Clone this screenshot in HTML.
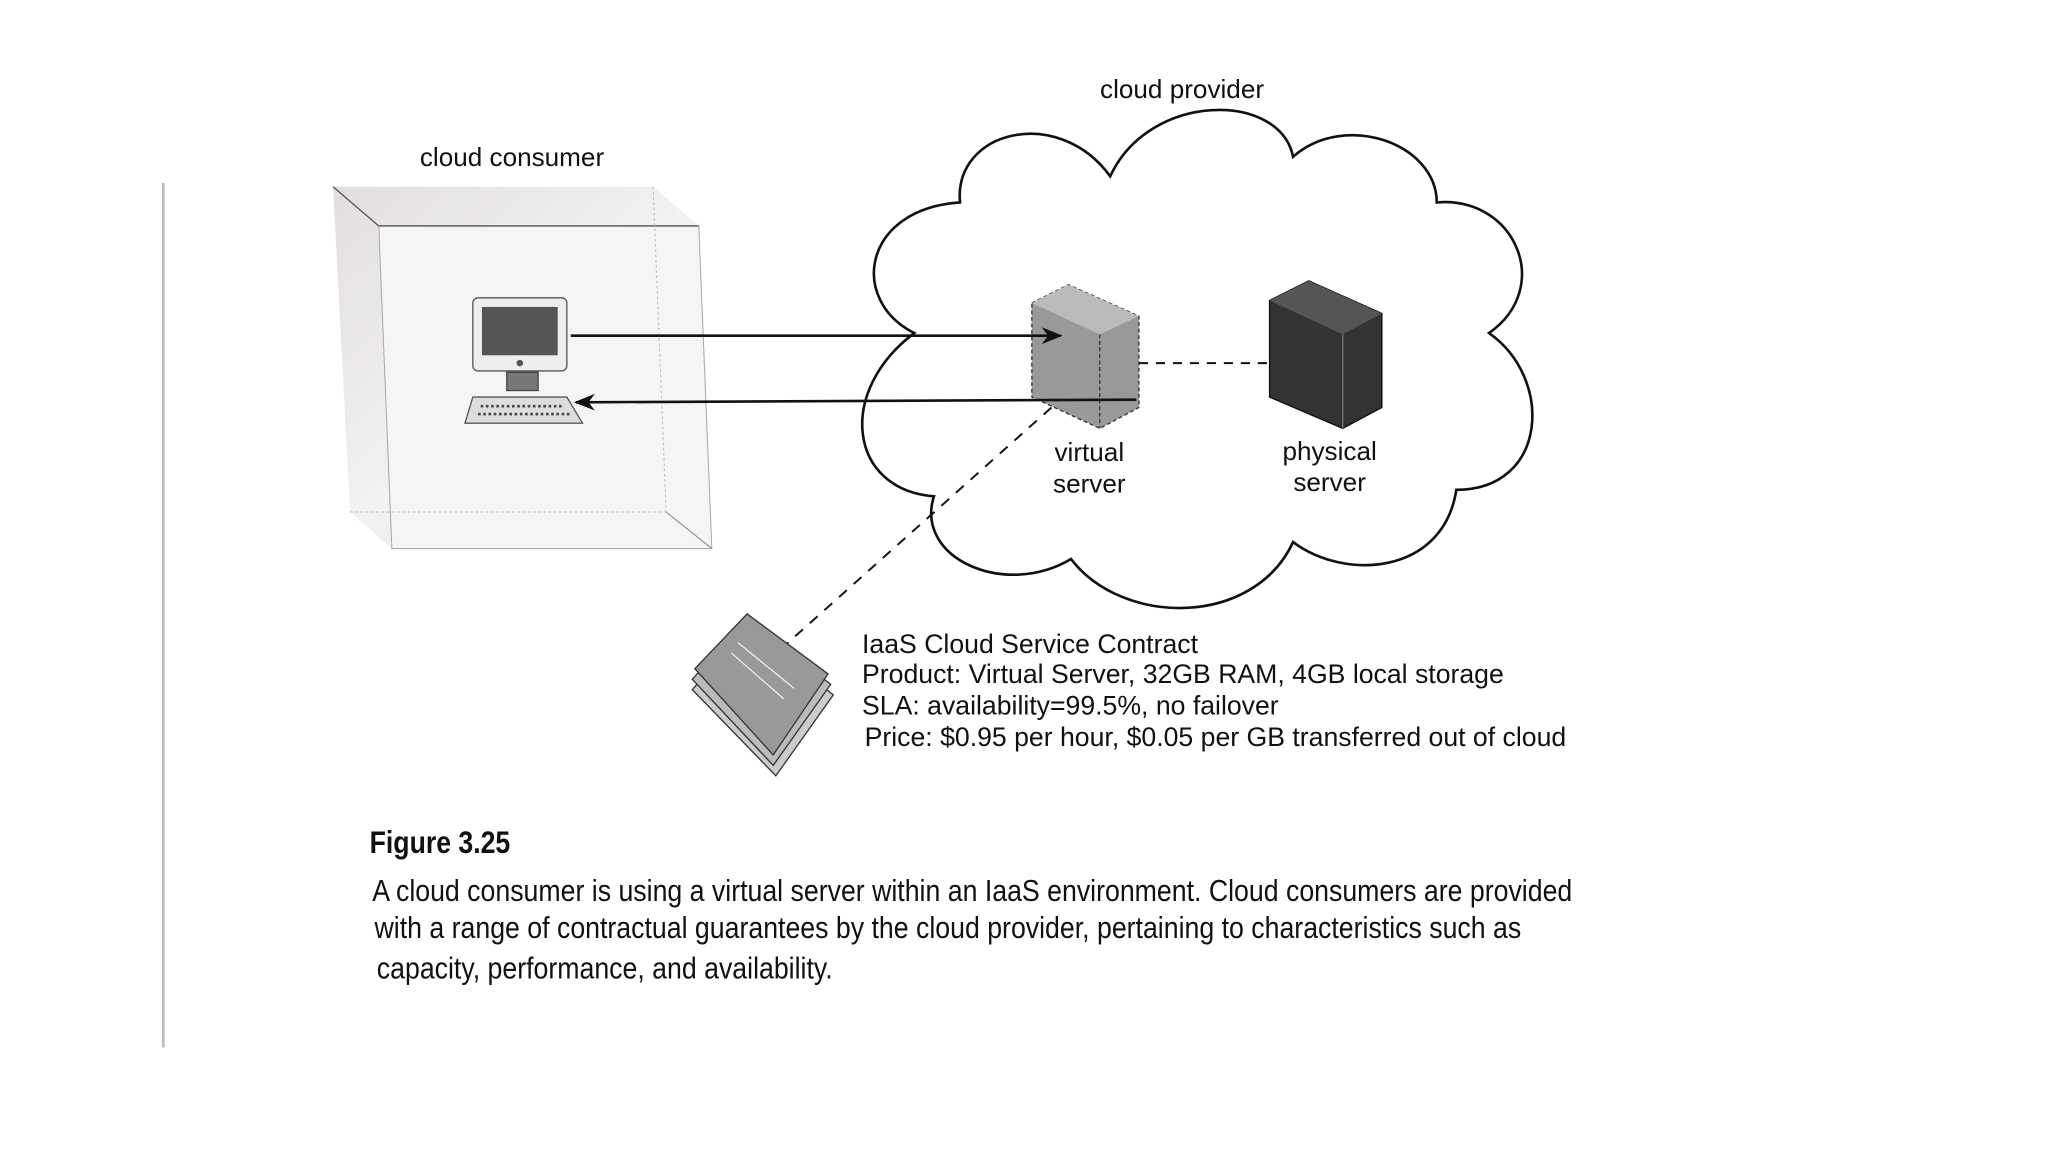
<!DOCTYPE html>
<html><head><meta charset="utf-8"><style>
html,body{margin:0;padding:0;background:#fff;}
svg{display:block}
text{font-family:"Liberation Sans",sans-serif;fill:#111}
</style></head><body>
<svg width="2048" height="1152" viewBox="0 0 1568 882" preserveAspectRatio="none" xmlns="http://www.w3.org/2000/svg">
<defs>
<linearGradient id="bx" x1="0" y1="0" x2="1" y2="1"><stop offset="0" stop-color="#e2dede"/><stop offset="0.5" stop-color="#f3f1f1"/><stop offset="1" stop-color="#e0dcdc"/></linearGradient>
<marker id="ah" viewBox="0 0 10 10" refX="9" refY="5" markerWidth="8" markerHeight="8" orient="auto"><path d="M0,1 L10,5 L0,9 L3,5 Z" fill="#111"/></marker>
</defs>
<rect width="1568" height="882" fill="#fff"/>
<line x1="125" y1="140" x2="125" y2="802" stroke="#bbb" stroke-width="2"/>

<text x="392" y="127" font-size="20" text-anchor="middle">cloud consumer</text>
<polygon points="255,143 500,143 535,173 545,420 300,420 268,392" fill="url(#bx)"/>
<polygon points="290,173 535,173 545,420 300,420" fill="#f6f5f5" stroke="#aaa" stroke-width="0.8"/>
<line x1="255" y1="143" x2="290" y2="173" stroke="#555" stroke-width="1"/>
<line x1="290" y1="173" x2="535" y2="173" stroke="#555" stroke-width="1"/>
<line x1="500" y1="143" x2="510" y2="392" stroke="#bbb" stroke-width="0.8" stroke-dasharray="2,2"/>
<line x1="268" y1="392" x2="510" y2="392" stroke="#bbb" stroke-width="0.8" stroke-dasharray="2,2"/>
<line x1="510" y1="392" x2="545" y2="420" stroke="#888" stroke-width="0.8"/>

<rect x="362" y="228" width="72" height="56" rx="4" fill="#eee" stroke="#555"/>
<rect x="369" y="235" width="58" height="37" fill="#555"/>
<circle cx="398" cy="278" r="2.5" fill="#555"/>
<rect x="388" y="285" width="24" height="14" fill="#777" stroke="#444"/>
<polygon points="362,304 434,304 446,324 356,324" fill="#ddd" stroke="#555"/>
<line x1="368" y1="311" x2="430" y2="311" stroke="#444" stroke-width="2" stroke-dasharray="2,2"/>
<line x1="366" y1="317" x2="436" y2="317" stroke="#444" stroke-width="2" stroke-dasharray="2,2"/>

<path d="M700,255 C650,230 660,160 735,155 C730,100 810,80 850,135 C880,70 980,70 990,120 C1030,85 1100,110 1100,155 C1160,150 1190,220 1140,255 C1190,290 1185,375 1115,375 C1105,440 1030,445 990,415 C960,480 860,480 820,428 C770,458 700,428 715,380 C650,375 640,300 700,255 Z" fill="#fff" stroke="#111" stroke-width="2"/>
<text x="905" y="75" font-size="20" text-anchor="middle">cloud provider</text>

<polygon points="790,232 818,218 872,242 872,312 842,328 790,304" fill="#999" stroke="#333" stroke-width="1" stroke-dasharray="3,2"/>
<polygon points="790,232 818,218 872,242 842,256" fill="#bbb"/>
<line x1="842" y1="256" x2="842" y2="328" stroke="#333" stroke-dasharray="3,2"/>
<line x1="872" y1="278" x2="972" y2="278" stroke="#111" stroke-width="1.5" stroke-dasharray="7,6"/>

<line x1="437" y1="257" x2="812" y2="257" stroke="#111" stroke-width="2" marker-end="url(#ah)"/>
<line x1="870" y1="306" x2="441" y2="308" stroke="#111" stroke-width="2" marker-end="url(#ah)"/>

<polygon points="972,230 1002,215 1058,240 1058,312 1028,328 972,304" fill="#333" stroke="#111"/>
<polygon points="972,230 1002,215 1058,240 1028,256" fill="#555"/>
<line x1="1028" y1="256" x2="1028" y2="328" stroke="#777"/>

<text x="834" y="353" font-size="20" text-anchor="middle">virtual</text>
<text x="834" y="377" font-size="20" text-anchor="middle">server</text>
<text x="1018" y="352" font-size="20" text-anchor="middle">physical</text>
<text x="1018" y="376" font-size="20" text-anchor="middle">server</text>

<line x1="805" y1="312" x2="600" y2="495" stroke="#111" stroke-width="1.5" stroke-dasharray="8,7"/>

<g stroke="#333" stroke-width="1">
<polygon points="530,528 572,480 638,532 594,594" fill="#ccc"/>
<polygon points="530,520 572,474 636,524 592,586" fill="#bbb"/>
<polygon points="532,512 572,470 634,516 592,578" fill="#999"/>
<line x1="560" y1="500" x2="600" y2="535" stroke="#eee"/>
<line x1="565" y1="492" x2="608" y2="527" stroke="#eee"/>
</g>
<g font-size="20.4">
<text x="660" y="500">IaaS Cloud Service Contract</text>
<text x="660" y="523">Product: Virtual Server, 32GB RAM, 4GB local storage</text>
<text x="660" y="547">SLA: availability=99.5%, no failover</text>
<text x="662" y="571">Price: $0.95 per hour, $0.05 per GB transferred out of cloud</text>
</g>

<text x="283" y="653" font-size="24" font-weight="bold" transform="translate(283,0) scale(0.85,1) translate(-283,0)">Figure 3.25</text>
<g font-size="23.5" transform="translate(285,0) scale(0.87,1) translate(-285,0)">
<text x="285" y="690">A cloud consumer is using a virtual server within an IaaS environment. Cloud consumers are provided</text>
<text x="287" y="718">with a range of contractual guarantees by the cloud provider, pertaining to characteristics such as</text>
<text x="289" y="749">capacity, performance, and availability.</text>
</g>
</svg>
</body></html>
